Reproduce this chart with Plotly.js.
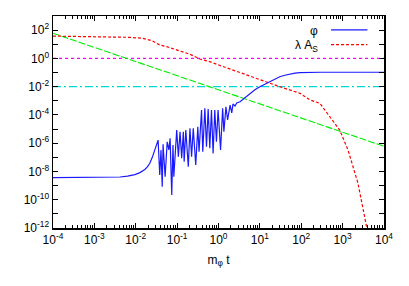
<!DOCTYPE html>
<html>
<head>
<meta charset="utf-8">
<script src="https://cdn.plot.ly/plotly-3.0.1.min.js"></script>
<style>html,body{margin:0;padding:0;background:#fff;}#chart{width:409px;height:286px;}</style>
</head>
<body>
<div id="chart"></div>
<script>
// log10 of m_phi t and log10 of values
var phiLogT = [-4, -3.0, -2.6, -2.38, -2.2, -2.02, -1.9, -1.78, -1.72, -1.66, -1.60, -1.56, -1.50, -1.46, -1.42, -1.39, -1.36, -1.34, -1.29, -1.24, -1.20, -1.17, -1.13, -1.10, -1.08, -1.01, -0.97, -0.93, -0.89, -0.85, -0.83, -0.79, -0.73, -0.69, -0.65, -0.61, -0.55, -0.50, -0.47, -0.41, -0.38, -0.33, -0.29, -0.25, -0.21, -0.17, -0.13, -0.09, -0.05, -0.01, 0.05, 0.10, 0.13, 0.18, 0.22, 0.28, 0.32, 0.35, 0.40, 0.44, 0.52, 0.64, 0.76, 0.88, 1.0, 1.12, 1.24, 1.36, 1.48, 1.60, 1.72, 1.85, 1.97, 2.2, 2.45, 4];
var phiLogV = [-8.43, -8.43, -8.42, -8.39, -8.33, -8.22, -8.08, -7.86, -7.68, -7.42, -7.0, -6.62, -6.05, -5.78, -8.25, -6.48, -9.08, -6.08, -8.37, -5.90, -6.48, -5.66, -9.67, -6.13, -8.37, -5.07, -6.96, -5.19, -7.07, -5.19, -7.31, -5.07, -7.67, -4.95, -6.96, -4.95, -7.54, -4.83, -6.60, -3.65, -6.60, -3.53, -6.25, -3.58, -6.36, -3.65, -6.72, -3.65, -5.90, -3.65, -6.48, -3.53, -5.19, -3.42, -4.36, -3.30, -3.86, -3.23, -3.37, -3.16, -3.07, -2.77, -2.47, -2.22, -2.0, -1.82, -1.65, -1.46, -1.30, -1.19, -1.10, -1.04, -1.01, -0.99, -0.98, -0.98];
var lamLogT = [-4, -2.62, -2.14, -1.83, -1.61, -1.42, -1.25, -1.00, -0.69, -0.45, -0.21, -0.04, 0.52, 1.0, 1.48, 1.97, 2.21, 2.45, 2.62, 2.93, 3.13, 3.37, 3.58, 3.62];
var lamLogV = [1.58, 1.54, 1.49, 1.42, 1.25, 0.95, 0.83, 0.59, 0.29, -0.04, -0.23, -0.42, -1.01, -1.53, -2.0, -2.47, -2.94, -3.18, -3.86, -5.07, -6.48, -8.82, -11.93, -13];
var greenT = [1e-4, 1e4];
var greenV = [60, 6.0e-7];
var magT = [1e-4, 1e4];
var magV = [1, 1];
var cyanT = [1e-4, 1e4];
var cyanV = [1e-2, 1e-2];
var xTickVals = [1e-4, 1e-3, 1e-2, 1e-1, 1, 10, 100, 1000, 10000];
var xTickText = ['10<sup>-4</sup>','10<sup>-3</sup>','10<sup>-2</sup>','10<sup>-1</sup>','10<sup>0</sup>','10<sup>1</sup>','10<sup>2</sup>','10<sup>3</sup>','10<sup>4</sup>'];
var yTickVals = [1e-12,1e-11,1e-10,1e-9,1e-8,1e-7,1e-6,1e-5,1e-4,1e-3,1e-2,1e-1,1,10,100,1000];
var yTickText = ['10<sup>-12</sup>','','10<sup>-10</sup>','','10<sup>-8</sup>','','10<sup>-6</sup>','','10<sup>-4</sup>','','10<sup>-2</sup>','','10<sup>0</sup>','','10<sup>2</sup>',''];

function pw(a){ return a.map(function(v){ return Math.pow(10, v); }); }

var traces = [
  {x: magT, y: magV, mode:'lines', line:{color:'#ff00ff', width:1.3, dash:'dot'}, showlegend:false, hoverinfo:'skip'},
  {x: cyanT, y: cyanV, mode:'lines', line:{color:'#00d8d8', width:1.1, dash:'8px,3px,2px,3px'}, showlegend:false, hoverinfo:'skip'},
  {x: greenT, y: greenV, mode:'lines', line:{color:'#00ee00', width:1.1, dash:'7px,2px'}, showlegend:false, hoverinfo:'skip'},
  {x: pw(lamLogT), y: pw(lamLogV), mode:'lines', line:{color:'#ff0000', width:1.2, dash:'3px,2px'}, showlegend:false},
  {x: pw(phiLogT), y: pw(phiLogV), mode:'lines', line:{color:'#1a1aff', width:1.2}, showlegend:false}
];

var axFont = {family:'Liberation Sans, Arial, sans-serif', size:12, color:'#000'};
var layout = {
  width:409, height:286,
  margin:{l:53, r:25, t:16, b:58},
  paper_bgcolor:'#fff', plot_bgcolor:'#fff',
  showlegend:false,
  xaxis:{type:'log', range:[-4,4], tickmode:'array', tickvals:xTickVals, ticktext:xTickText,
    ticks:'inside', ticklen:5, tickwidth:1, tickcolor:'#000', mirror:'allticks', showline:true, linecolor:'#000', linewidth:1.5,
    showgrid:false, zeroline:false, tickfont:axFont,
    minor:{ticks:'inside', ticklen:3, tickcolor:'#000', dtick:'D1', showgrid:false},
    title:{text:'m<sub>φ</sub> t', font:axFont, standoff:9}},
  yaxis:{type:'log', range:[-12,3], tickmode:'array', tickvals:yTickVals, ticktext:yTickText,
    ticks:'inside', ticklen:5, tickwidth:1, tickcolor:'#000', mirror:'allticks', showline:true, linecolor:'#000', linewidth:1.5,
    showgrid:false, zeroline:false, tickfont:axFont},
  annotations:[
    {xref:'paper', yref:'paper', x:0.808, y:0.93, xanchor:'right', yanchor:'middle', text:'φ', showarrow:false, font:axFont},
    {xref:'paper', yref:'paper', x:0.808, y:0.86, xanchor:'right', yanchor:'middle', text:'λ A<sub>S</sub>', showarrow:false, font:axFont}
  ],
  shapes:[
    {type:'line', xref:'paper', yref:'paper', x0:0.84, x1:0.95, y0:0.935, y1:0.935, line:{color:'#1a1aff', width:1.2}},
    {type:'line', xref:'paper', yref:'paper', x0:0.84, x1:0.95, y0:0.865, y1:0.865, line:{color:'#ff0000', width:1.2, dash:'3px,2px'}}
  ]
};
Plotly.newPlot('chart', traces, layout, {staticPlot:true, displayModeBar:false});
</script>
</body>
</html>
